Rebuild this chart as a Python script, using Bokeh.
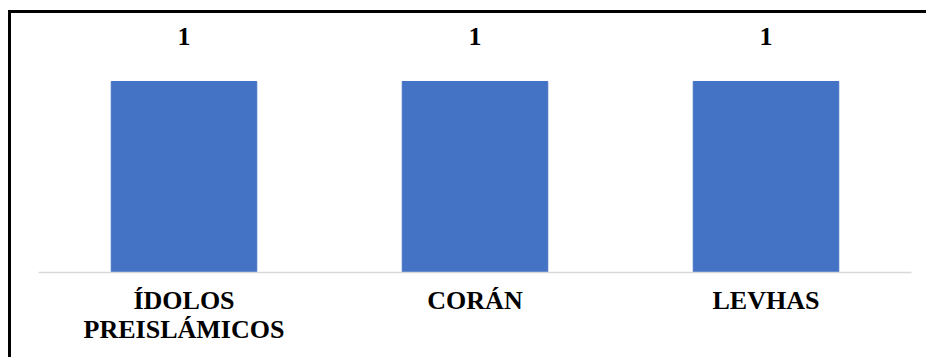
from bokeh.plotting import figure
from bokeh.models import ColumnDataSource, Range1d
from bokeh.core.properties import value
from bokeh.embed import file_html
from bokeh.resources import INLINE

categories = ["ÍDOLOS\nPREISLÁMICOS", "CORÁN", "LEVHAS"]
counts = [1, 1, 1]
count_labels = ["1", "1", "1"]

src = ColumnDataSource(data=dict(cat=categories, val=counts, lab=count_labels))

p = figure(x_range=categories, y_range=Range1d(0, 1.356), width=918, height=347,
           output_backend="svg", toolbar_location=None,
           min_border_left=27, min_border_right=18, min_border_top=0, min_border_bottom=88)
p.styles = {"border-top": "3px solid black", "border-left": "3px solid black",
            "margin-top": "10px", "margin-left": "8px"}
p.outline_line_color = None
p.background_fill_color = "white"
p.border_fill_color = "white"
p.xgrid.grid_line_color = None
p.ygrid.grid_line_color = None
p.yaxis.visible = False
p.x_range.range_padding = 0

p.vbar(x="cat", top="val", width=0.5, source=src, color="#4472C4")

p.text(x="cat", y="val", text="lab", source=src, y_offset=-45,
       text_align="center", text_baseline="middle",
       text_font=value("Liberation Serif"), text_font_style="bold",
       text_font_size="26px", text_color="black")

ax = p.xaxis[0]
ax.axis_line_color = "#D9D9D9"
ax.axis_line_width = 1.5
ax.major_tick_line_color = None
ax.minor_tick_line_color = None
ax.major_label_standoff = 7
ax.major_label_text_font = "Liberation Serif"
ax.major_label_text_font_style = "bold"
ax.major_label_text_font_size = "26px"
ax.major_label_text_color = "black"
ax.major_label_text_line_height = 1.0

open("out.html", "w").write(file_html(p, INLINE))
